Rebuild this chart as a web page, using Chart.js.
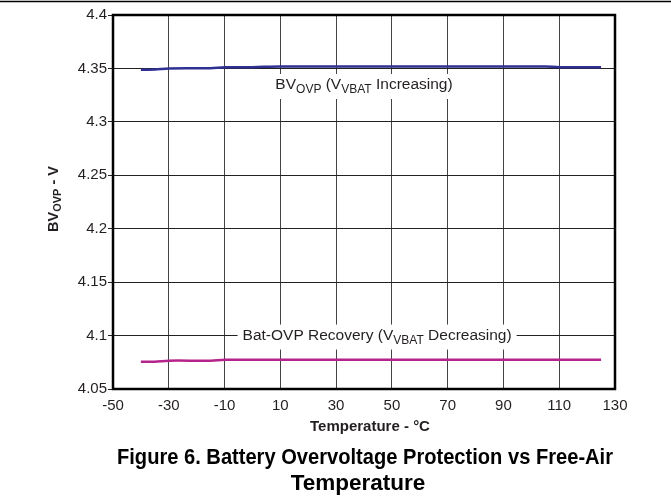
<!DOCTYPE html>
<html>
<head>
<meta charset="utf-8">
<script src="https://cdn.jsdelivr.net/npm/chart.js@4/dist/chart.umd.min.js"></script>
<style>
  html, body { margin: 0; padding: 0; background: #fff; }
  #wrap { width: 671px; height: 502px; }
</style>
</head>
<body>
<div id="wrap"><canvas id="chart" width="671" height="502"></canvas></div>
<script>
// Data
const temps = [-40, -35, -30, -15, -10, 0, 10, 30, 50, 70, 90, 105, 110, 125];
const bvIncreasing = [4.3488, 4.3490, 4.3500, 4.3502, 4.3510, 4.3512, 4.3518, 4.3518, 4.3518, 4.3518, 4.3518, 4.3518, 4.3512, 4.3510];
const bvRecovery = [4.0755, 4.0755, 4.0765, 4.0765, 4.0773, 4.0774, 4.0774, 4.0774, 4.0774, 4.0774, 4.0774, 4.0774, 4.0774, 4.0774];
const xTicks = [-50, -30, -10, 10, 30, 50, 70, 90, 110, 130];
const yTicks = [4.05, 4.1, 4.15, 4.2, 4.25, 4.3, 4.35, 4.4];

const FONT = '"Liberation Sans", Arial, sans-serif';

function toPoints(ys) {
    return temps.map((t, i) => ({ x: t, y: ys[i] }));
}

// text made of parts, some of them subscript
function richWidth(ctx, parts, size, sub, weight) {
    let w = 0;
    parts.forEach(p => {
        ctx.font = `${weight} ${p.sub ? sub : size}px ${FONT}`;
        w += ctx.measureText(p.t).width;
    });
    return w;
}

function drawRich(ctx, parts, x, y, size, sub, weight) {
    let cx = x;
    ctx.textBaseline = 'middle';
    ctx.textAlign = 'left';
    parts.forEach(p => {
        ctx.font = `${weight} ${p.sub ? sub : size}px ${FONT}`;
        ctx.fillText(p.t, cx, p.sub ? y + size * 0.3 : y);
        cx += ctx.measureText(p.t).width;
    });
}

const curveLabels = [
    { x: 40, y: 4.3345, parts: [{ t: 'BV' }, { t: 'OVP', sub: true }, { t: ' (V' }, { t: 'VBAT', sub: true }, { t: ' Increasing)' }] },
    { x: 44.7, y: 4.1, parts: [{ t: 'Bat-OVP Recovery (V' }, { t: 'VBAT', sub: true }, { t: ' Decreasing)' }] }
];

const decorPlugin = {
    id: 'decor',
    beforeDatasetsDraw(chart) {
        const ctx = chart.ctx;
        const xs = chart.scales.x, ys = chart.scales.y;
        ctx.save();
        curveLabels.forEach(l => {
            const w = richWidth(ctx, l.parts, 15.5, 12, 'normal');
            const cx = xs.getPixelForValue(l.x);
            const cy = ys.getPixelForValue(l.y);
            ctx.fillStyle = '#fff';
            ctx.fillRect(cx - w / 2 - 5, cy - 11, w + 10, 25);
            ctx.fillStyle = '#231f20';
            drawRich(ctx, l.parts, cx - w / 2, cy, 15.5, 12, 'normal');
        });
        ctx.restore();
    },
    afterDatasetsDraw(chart) {
        const ctx = chart.ctx;
        const a = chart.chartArea;
        ctx.save();
        ctx.strokeStyle = '#000';
        ctx.lineWidth = 2.5;
        ctx.strokeRect(a.left, a.top, a.right - a.left, a.bottom - a.top);
        ctx.restore();
    },
    afterDraw(chart) {
        const ctx = chart.ctx;
        ctx.save();
        // top rule
        ctx.strokeStyle = '#000';
        ctx.lineWidth = 1.5;
        ctx.beginPath();
        ctx.moveTo(0, 1.5);
        ctx.lineTo(671, 1.5);
        ctx.stroke();

        ctx.fillStyle = '#231f20';
        // y axis title
        ctx.translate(54, 199);
        ctx.rotate(-Math.PI / 2);
        const yt = [{ t: 'BV' }, { t: 'OVP', sub: true }, { t: ' - V' }];
        drawRich(ctx, yt, -richWidth(ctx, yt, 14.5, 11, 'bold') / 2, 0, 14.5, 11, 'bold');
        ctx.setTransform(1, 0, 0, 1, 0, 0);
        ctx.scale(chart.currentDevicePixelRatio, chart.currentDevicePixelRatio);

        // x axis title
        ctx.textAlign = 'center';
        ctx.textBaseline = 'middle';
        ctx.font = `bold 15px ${FONT}`;
        ctx.fillText('Temperature - \u00B0C', 370, 427);

        // caption
        ctx.fillStyle = '#000';
        ctx.font = `bold 22.5px ${FONT}`;
        ctx.fillText('Figure 6. Battery Overvoltage Protection vs Free-Air', 365, 458, 496);
        ctx.fillText('Temperature', 358, 484);
        ctx.restore();
    }
};

new Chart(document.getElementById('chart'), {
    type: 'line',
    data: {
        datasets: [
            {
                label: 'BVOVP (VVBAT Increasing)',
                data: toPoints(bvIncreasing),
                borderColor: '#2e3192',
                borderWidth: 2.5,
                pointRadius: 0,
                tension: 0.3,
                fill: false
            },
            {
                label: 'Bat-OVP Recovery (VVBAT Decreasing)',
                data: toPoints(bvRecovery),
                borderColor: '#b5248c',
                borderWidth: 2.5,
                pointRadius: 0,
                tension: 0.3,
                fill: false
            }
        ]
    },
    options: {
        responsive: false,
        animation: false,
        layout: { padding: { top: 15, right: 56, left: 0, bottom: 0 } },
        plugins: {
            legend: { display: false },
            tooltip: { enabled: false }
        },
        scales: {
            x: {
                type: 'linear',
                min: -50,
                max: 130,
                afterBuildTicks: scale => { scale.ticks = xTicks.map(v => ({ value: v })); },
                afterFit: scale => { scale.height = 113; },
                border: { display: false },
                grid: { color: '#444', lineWidth: 1, drawTicks: false },
                ticks: {
                    color: '#231f20',
                    padding: 8,
                    maxRotation: 0,
                    font: { family: FONT, size: 15 }
                }
            },
            y: {
                min: 4.05,
                max: 4.4,
                afterBuildTicks: scale => { scale.ticks = yTicks.map(v => ({ value: v })); },
                afterFit: scale => { scale.width = 113; },
                border: { display: false },
                grid: { color: '#222', lineWidth: 1, drawTicks: true, tickLength: 5 },
                ticks: {
                    color: '#231f20',
                    padding: 1,
                    font: { family: FONT, size: 15 },
                    callback: v => String(+v.toFixed(2))
                }
            }
        }
    },
    plugins: [decorPlugin]
});
</script>
</body>
</html>
